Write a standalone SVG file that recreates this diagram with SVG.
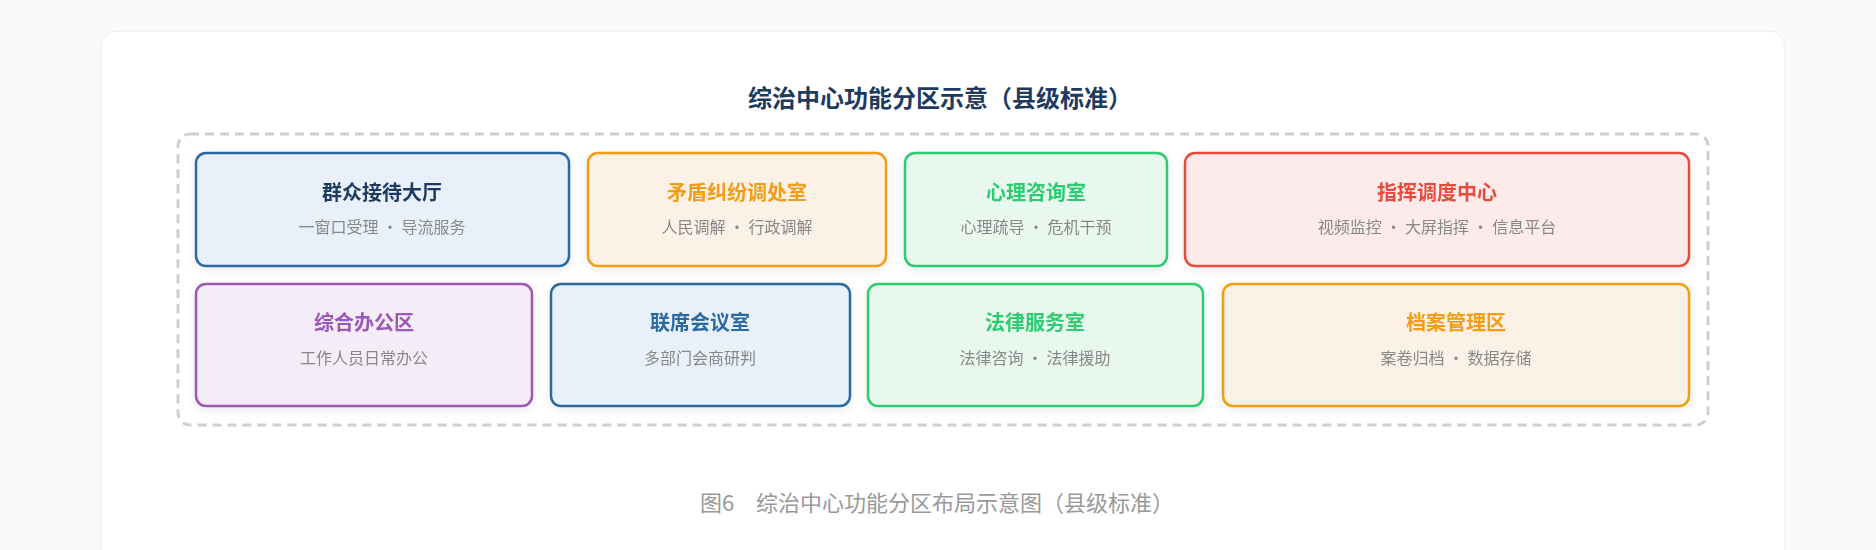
<svg xmlns="http://www.w3.org/2000/svg" width="1876" height="550" viewBox="0 0 1876 550">
<defs>
<filter id="sh" x="-10%" y="-20%" width="120%" height="150%"><feDropShadow dx="0" dy="3" stdDeviation="5" flood-color="#000" flood-opacity="0.08"/></filter>
<style>
.t{font-family:"Noto Sans CJK SC",sans-serif;text-anchor:middle}
.h{font-size:20px;font-weight:bold}
.s{font-size:16px;fill:#888}
.box{stroke-width:2.5}
.blue{fill:#e8f0f9;stroke:#2c6aa0}
.orange{fill:#fcf1e7;stroke:#f39c12}
.green{fill:#e9f8ef;stroke:#2ecc71}
.red{fill:#fdebec;stroke:#e74c3c}
.purple{fill:#f4ecf7;stroke:#9b59b6}
</style>
</defs>
<rect width="1876" height="550" fill="#fafafa"/>
<rect x="101" y="31" width="1684" height="540" rx="16" fill="#fff" stroke="#ececec"/>
<text class="t" x="940" y="107" font-size="24" font-weight="bold" fill="#1e3a5f">综治中心功能分区示意（县级标准）</text>
<rect x="178" y="134" width="1530" height="291" rx="12" fill="none" stroke="#cfcfcf" stroke-width="3" stroke-dasharray="9,6"/>
<g id="connectors"/>
<g id="n1" filter="url(#sh)"><rect class="box blue" x="196" y="153" width="373" height="113" rx="10"/><text class="t h" x="382" y="200" fill="#1e3a5f">群众接待大厅</text><text class="t s" x="382" y="233">一窗口受理 · 导流服务</text></g>
<g id="n2" filter="url(#sh)"><rect class="box orange" x="588" y="153" width="298" height="113" rx="10"/><text class="t h" x="737" y="200" fill="#f39c12">矛盾纠纷调处室</text><text class="t s" x="737" y="233">人民调解 · 行政调解</text></g>
<g id="n3" filter="url(#sh)"><rect class="box green" x="905" y="153" width="262" height="113" rx="10"/><text class="t h" x="1036" y="200" fill="#2ecc71">心理咨询室</text><text class="t s" x="1036" y="233">心理疏导 · 危机干预</text></g>
<g id="n4" filter="url(#sh)"><rect class="box red" x="1185" y="153" width="504" height="113" rx="10"/><text class="t h" x="1437" y="200" fill="#e74c3c">指挥调度中心</text><text class="t s" x="1437" y="233">视频监控 · 大屏指挥 · 信息平台</text></g>
<g id="n5" filter="url(#sh)"><rect class="box purple" x="196" y="284" width="336" height="122" rx="10"/><text class="t h" x="364" y="330" fill="#9b59b6">综合办公区</text><text class="t s" x="364" y="364">工作人员日常办公</text></g>
<g id="n6" filter="url(#sh)"><rect class="box blue" x="551" y="284" width="299" height="122" rx="10"/><text class="t h" x="700" y="330" fill="#2c6aa0">联席会议室</text><text class="t s" x="700" y="364">多部门会商研判</text></g>
<g id="n7" filter="url(#sh)"><rect class="box green" x="868" y="284" width="335" height="122" rx="10"/><text class="t h" x="1035" y="330" fill="#2ecc71">法律服务室</text><text class="t s" x="1035" y="364">法律咨询 · 法律援助</text></g>
<g id="n8" filter="url(#sh)"><rect class="box orange" x="1223" y="284" width="466" height="122" rx="10"/><text class="t h" x="1456" y="330" fill="#f39c12">档案管理区</text><text class="t s" x="1456" y="364">案卷归档 · 数据存储</text></g>
<text class="t" x="937" y="511" font-size="22" fill="#999">图6　综治中心功能分区布局示意图（县级标准）</text>
</svg>
